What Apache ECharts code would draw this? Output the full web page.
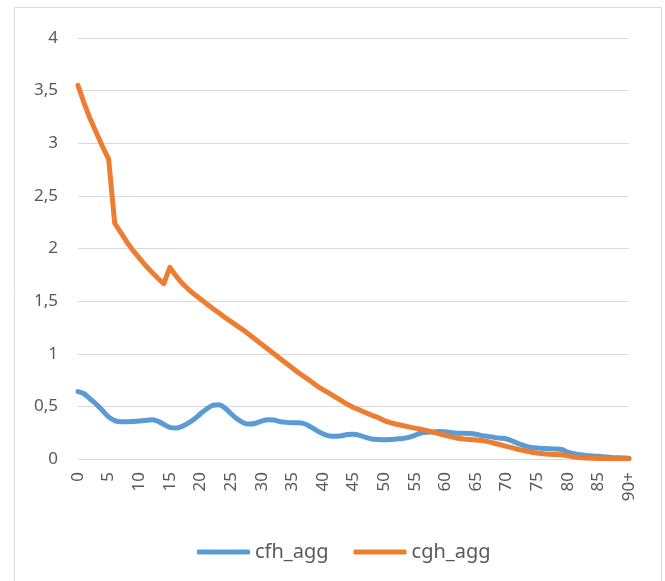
<!DOCTYPE html>
<html>
<head>
<meta charset="utf-8">
<script src="https://cdn.jsdelivr.net/npm/echarts@6/dist/echarts.min.js"></script>
<style>
  html, body { margin: 0; padding: 0; background: #fff; }
  #chart { width: 665px; height: 581px; }
</style>
</head>
<body>
<div id="chart"></div>
<script>
// age categories 0..89 and "90+"
var ages = [];
for (var i = 0; i < 90; i++) ages.push(String(i));
ages.push('90+');

// values
var cfhAgg = [
  0.64, 0.62, 0.57, 0.52, 0.46, 0.40, 0.365, 0.355, 0.355, 0.357,
  0.36, 0.365, 0.372, 0.36, 0.33, 0.30, 0.294, 0.31, 0.34, 0.38,
  0.43, 0.475, 0.51, 0.515, 0.485, 0.43, 0.38, 0.345, 0.332, 0.34,
  0.36, 0.372, 0.37, 0.355, 0.348, 0.345, 0.345, 0.335, 0.305, 0.27,
  0.24, 0.22, 0.215, 0.22, 0.232, 0.235, 0.225, 0.205, 0.19, 0.185,
  0.183, 0.185, 0.19, 0.195, 0.205, 0.225, 0.247, 0.255, 0.256, 0.262,
  0.258, 0.25, 0.245, 0.245, 0.243, 0.235, 0.222, 0.215, 0.205, 0.198,
  0.19, 0.17, 0.145, 0.125, 0.11, 0.105, 0.1, 0.098, 0.095, 0.09,
  0.065, 0.05, 0.04, 0.033, 0.028, 0.025, 0.02, 0.015, 0.012, 0.01,
  0.008
];
var cghAgg = [
  3.55, 3.38, 3.23, 3.10, 2.97, 2.85, 2.24, 2.15, 2.06, 1.98,
  1.91, 1.84, 1.78, 1.72, 1.665, 1.82, 1.74, 1.67, 1.615, 1.565,
  1.52, 1.475, 1.43, 1.39, 1.345, 1.305, 1.265, 1.225, 1.18, 1.135,
  1.09, 1.045, 1.00, 0.955, 0.91, 0.865, 0.82, 0.78, 0.74, 0.695,
  0.66, 0.625, 0.59, 0.555, 0.52, 0.49, 0.465, 0.44, 0.415, 0.395,
  0.365, 0.345, 0.33, 0.318, 0.305, 0.293, 0.282, 0.27, 0.255, 0.24,
  0.225, 0.21, 0.197, 0.19, 0.185, 0.18, 0.175, 0.165, 0.15, 0.135,
  0.12, 0.105, 0.09, 0.078, 0.065, 0.057, 0.05, 0.045, 0.042, 0.04,
  0.03, 0.02, 0.015, 0.01, 0.007, 0.005, 0.004, 0.003, 0.003, 0.003,
  0.003
];
var seriesNames = ['cfh_agg', 'cgh_agg'];

var chart = echarts.init(document.getElementById('chart'));
var font = "'Noto Sans', sans-serif";

var option = {
  animation: false,
  backgroundColor: '#fff',
  // light frame round the chart area
  graphic: [{
    type: 'rect',
    shape: { x: 14.5, y: 7.5, width: 647, height: 600 },
    style: { fill: 'none', stroke: '#d9d9d9', lineWidth: 1 },
    silent: true
  }],
  grid: { left: 78, right: 36, top: 38, bottom: 122 },
  legend: {
    data: seriesNames,
    left: 192,
    top: 537,
    icon: 'roundRect',
    itemWidth: 53,
    itemHeight: 5,
    itemGap: 25,
    textStyle: { fontFamily: font, fontSize: 20, color: '#595959' }
  },
  xAxis: {
    type: 'category',
    data: ages,
    boundaryGap: false,
    axisLine: { lineStyle: { color: '#d9d9d9', width: 1 } },
    axisTick: { show: false },
    axisLabel: {
      interval: 4,
      rotate: 90,
      margin: 13,
      fontFamily: font,
      fontSize: 17,
      color: '#595959'
    }
  },
  yAxis: {
    type: 'value',
    min: 0,
    max: 4,
    interval: 0.5,
    axisLine: { show: false },
    axisTick: { show: false },
    splitLine: { lineStyle: { color: '#d9d9d9', width: 1 } },
    axisLabel: {
      margin: 20,
      fontFamily: font,
      fontSize: 17,
      color: '#595959',
      formatter: function (v) { return String(v).replace('.', ','); }
    }
  },
  series: [
    {
      name: seriesNames[0],
      type: 'line',
      data: cfhAgg,
      smooth: 0.3,
      symbol: 'none',
      color: '#5B9BD5',
      lineStyle: { width: 5, cap: 'round', join: 'round' }
    },
    {
      name: seriesNames[1],
      type: 'line',
      data: cghAgg,
      symbol: 'none',
      color: '#ED7D31',
      lineStyle: { width: 5, cap: 'round', join: 'round' }
    }
  ]
};
chart.setOption(option);
</script>
</body>
</html>
